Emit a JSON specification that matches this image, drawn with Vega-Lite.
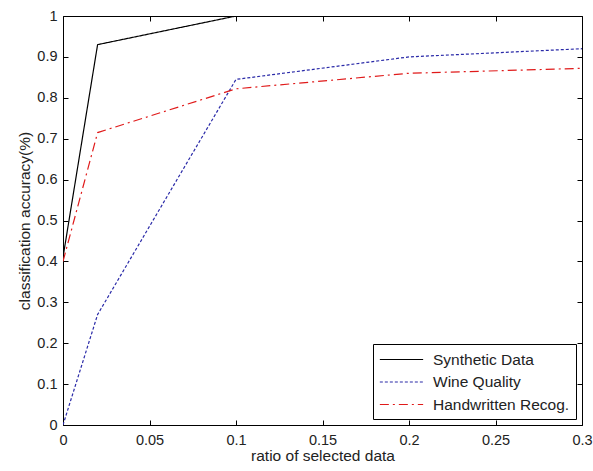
{
  "$schema": "https://vega.github.io/schema/vega-lite/v6.json",
  "autosize": "none",
  "width": 519,
  "height": 409,
  "padding": {"left": 63, "top": 16, "right": 11, "bottom": 46},
  "background": "white",
  "config": {
    "font": "Liberation Sans",
    "view": {"stroke": "black", "strokeWidth": 1}
  },
  "data": {
    "values": [
      {"ratio": 0, "acc": 0.41, "series": "Synthetic Data"},
      {"ratio": 0.02, "acc": 0.93, "series": "Synthetic Data"},
      {"ratio": 0.1, "acc": 1.0, "series": "Synthetic Data"},
      {"ratio": 0.2, "acc": 1.0, "series": "Synthetic Data"},
      {"ratio": 0.3, "acc": 1.0, "series": "Synthetic Data"},
      {"ratio": 0, "acc": 0.0, "series": "Wine Quality"},
      {"ratio": 0.02, "acc": 0.27, "series": "Wine Quality"},
      {"ratio": 0.1, "acc": 0.845, "series": "Wine Quality"},
      {"ratio": 0.2, "acc": 0.9, "series": "Wine Quality"},
      {"ratio": 0.3, "acc": 0.92, "series": "Wine Quality"},
      {"ratio": 0, "acc": 0.4, "series": "Handwritten Recog."},
      {"ratio": 0.02, "acc": 0.715, "series": "Handwritten Recog."},
      {"ratio": 0.1, "acc": 0.822, "series": "Handwritten Recog."},
      {"ratio": 0.2, "acc": 0.86, "series": "Handwritten Recog."},
      {"ratio": 0.3, "acc": 0.872, "series": "Handwritten Recog."}
    ]
  },
  "resolve": {"axis": {"x": "independent", "y": "independent"}},
  "layer": [
    {
      "mark": {"type": "line", "strokeWidth": 1.2, "clip": true},
      "encoding": {
        "x": {
          "field": "ratio", "type": "quantitative",
          "scale": {"domain": [0, 0.3], "nice": false, "zero": false},
          "axis": {
            "values": [0, 0.05, 0.1, 0.15, 0.2, 0.25, 0.3],
            "format": "~g", "grid": false, "domain": false,
            "tickSize": -5, "tickColor": "black", "labelPadding": 13,
            "labelFontSize": 14.5, "labelColor": "#222", "labelFlush": false,
            "title": "ratio of selected data", "titleFontSize": 15.5, "titleFontWeight": "normal",
            "titleColor": "#222", "titlePadding": 2
          }
        },
        "y": {
          "field": "acc", "type": "quantitative",
          "scale": {"domain": [0, 1], "nice": false},
          "axis": {
            "values": [0, 0.1, 0.2, 0.3, 0.4, 0.5, 0.6, 0.7, 0.8, 0.9, 1],
            "format": "~g", "grid": false, "domain": false,
            "tickSize": -5, "tickColor": "black", "labelPadding": 11,
            "labelFontSize": 14.5, "labelColor": "#222", "labelFlush": false,
            "title": "classification accuracy(%)", "titleFontSize": 15.5, "titleFontWeight": "normal",
            "titleColor": "#222", "titlePadding": 4
          }
        },
        "color": {
          "field": "series", "type": "nominal",
          "scale": {
            "domain": ["Synthetic Data", "Wine Quality", "Handwritten Recog."],
            "range": ["#000000", "#2a2aa8", "#e01a1a"]
          },
          "legend": {
            "title": null, "orient": "bottom-right", "offset": 6,
            "strokeColor": "black", "fillColor": "white", "padding": 6,
            "symbolType": "M-1,0H4", "symbolSize": 300, "symbolStrokeWidth": 1.2,
            "labelFontSize": 15.5, "labelColor": "#222", "rowPadding": 4.5, "labelOffset": 35
          }
        },
        "strokeDash": {
          "field": "series", "type": "nominal",
          "scale": {
            "domain": ["Synthetic Data", "Wine Quality", "Handwritten Recog."],
            "range": [[1, 0], [3, 2], [9, 4, 2, 4]]
          },
          "legend": null
        },
        "detail": {"field": "series"}
      }
    },
    {
      "mark": {"type": "line", "strokeOpacity": 0},
      "encoding": {
        "x": {
          "field": "ratio", "type": "quantitative",
          "axis": {
            "orient": "top", "values": [0, 0.05, 0.1, 0.15, 0.2, 0.25, 0.3],
            "labels": false, "grid": false, "domain": false, "title": null,
            "tickSize": -5, "tickColor": "black"
          }
        },
        "y": {
          "field": "acc", "type": "quantitative",
          "axis": {
            "orient": "right", "values": [0, 0.1, 0.2, 0.3, 0.4, 0.5, 0.6, 0.7, 0.8, 0.9, 1],
            "labels": false, "grid": false, "domain": false, "title": null,
            "tickSize": -5, "tickColor": "black"
          }
        },
        "detail": {"field": "series"}
      }
    }
  ]
}
